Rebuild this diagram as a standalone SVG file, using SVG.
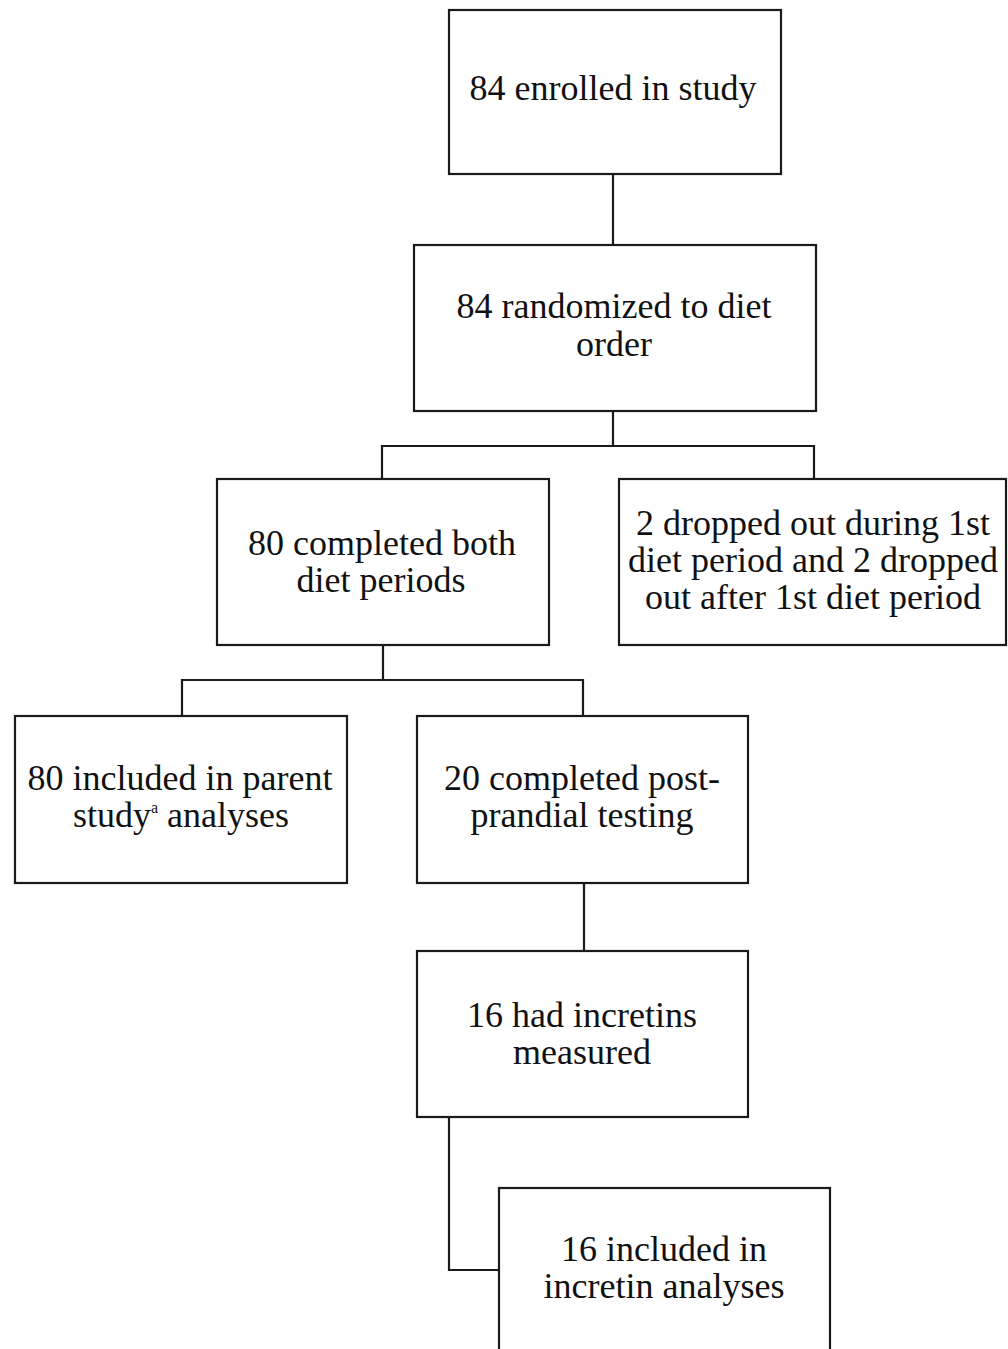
<svg xmlns="http://www.w3.org/2000/svg" width="1008" height="1349" viewBox="0 0 1008 1349">
<style>
.box{fill:#fff;stroke:#1a1a1a;stroke-width:2.2}
.c{fill:none;stroke:#1a1a1a;stroke-width:2.2}
text{font-family:"Liberation Serif","Times New Roman",serif;font-size:36px;fill:#111;text-anchor:middle}
</style>
<rect width="1008" height="1349" fill="#fff"/>
<g id="connectors">
<path class="c" d="M613,174V245"/>
<path class="c" d="M613,411V446M382,479V446H814V479"/>
<path class="c" d="M383,645V680M182,716V680H583V716"/>
<path class="c" d="M584,883V951"/>
<path class="c" d="M449,1117V1270H499"/>
</g>
<g id="n1"><rect class="box" x="449" y="10" width="332" height="164"/><text x="613" y="100">84 enrolled in study</text></g>
<g id="n2"><rect class="box" x="414" y="245" width="402" height="166"/><text x="614" y="318">84 randomized to diet</text><text x="614" y="356">order</text></g>
<g id="n3"><rect class="box" x="217" y="479" width="332" height="166"/><text x="382" y="555">80 completed both</text><text x="381" y="592">diet periods</text></g>
<g id="n4"><rect class="box" x="619" y="479" width="387" height="166"/><text x="813" y="535">2 dropped out during 1st</text><text x="813" y="572">diet period and 2 dropped</text><text x="813" y="609">out after 1st diet period</text></g>
<g id="n5"><rect class="box" x="15" y="716" width="332" height="167"/><text x="180" y="790">80 included in parent</text><text x="181" y="827">study<tspan font-size="16" dy="-14">a</tspan><tspan dy="14"> analyses</tspan></text></g>
<g id="n6"><rect class="box" x="417" y="716" width="331" height="167"/><text x="582" y="790">20 completed post-</text><text x="582" y="827">prandial testing</text></g>
<g id="n7"><rect class="box" x="417" y="951" width="331" height="166"/><text x="582" y="1027">16 had incretins</text><text x="582" y="1064">measured</text></g>
<g id="n8"><rect class="box" x="499" y="1188" width="331" height="180"/><text x="664" y="1261">16 included in</text><text x="664" y="1298">incretin analyses</text></g>
</svg>
